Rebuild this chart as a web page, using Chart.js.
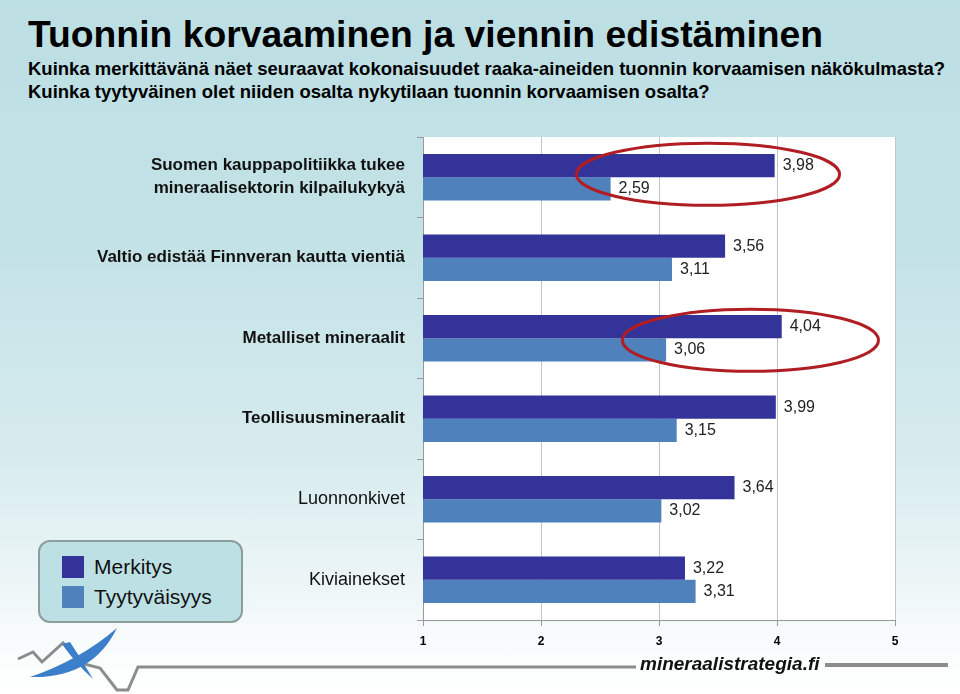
<!DOCTYPE html>
<html>
<head>
<meta charset="utf-8">
<script src="https://cdn.jsdelivr.net/npm/chart.js@4.4.1/dist/chart.umd.min.js"></script>
<style>
  body { margin: 0; }
  #wrap {
    position: relative; width: 960px; height: 694px; overflow: hidden;
    font-family: "Liberation Sans", Arial, sans-serif;
    background: linear-gradient(#bcdfe3 0%, #c3e2e6 35%, #d6ebee 65%, #eef6f7 85%, #fbfdfd 95%, #ffffff 100%);
  }
  #chart { position: absolute; left: 0; top: 0; }
  .title { position: absolute; left: 28px; top: 16px; margin: 0; font-size: 37.3px; line-height: 37px; font-weight: bold; color: #000; white-space: nowrap; }
  .sub { position: absolute; left: 28px; font-size: 18.5px; line-height: 18px; font-weight: bold; color: #000; white-space: nowrap; }
  #legend {
    position: absolute; left: 38px; top: 540px; width: 201px; height: 79px;
    background: #bde0e4; border: 2px solid #8d9c9d; border-radius: 12px;
  }
  .item { position: absolute; left: 22px; font-size: 21px; line-height: 22px; color: #111; }
  .item span { position: absolute; left: 0; top: 0; width: 22px; height: 22px; }
  .item b { position: absolute; left: 32px; top: 0; font-weight: normal; white-space: nowrap; }
  #site { position: absolute; left: 640px; top: 653px; font-size: 19px; font-weight: bold; font-style: italic; color: #111; }
  #logo { position: absolute; left: 0; top: 0; }
</style>
</head>
<body>
<div id="wrap">
  <div class="title">Tuonnin korvaaminen ja viennin edistäminen</div>
  <div class="sub" style="top:60px">Kuinka merkittävänä näet seuraavat kokonaisuudet raaka-aineiden tuonnin korvaamisen näkökulmasta?</div>
  <div class="sub" style="top:83px">Kuinka tyytyväinen olet niiden osalta nykytilaan tuonnin korvaamisen osalta?</div>
  <canvas id="chart" width="960" height="694"></canvas>
  <div id="legend">
    <div class="item" style="top:14px"><span style="background:#333399"></span><b>Merkitys</b></div>
    <div class="item" style="top:44px"><span style="background:#4f81bd"></span><b>Tyytyväisyys</b></div>
  </div>
  <svg id="logo" width="960" height="694">
    <polyline points="18,659 33,652 42,662 63,643 80,663 100,668 117,690 128,690 138,667 636,667" fill="none" stroke="#8c8c8c" stroke-width="3"/>
    <line x1="825" y1="665" x2="948" y2="665" stroke="#8c8c8c" stroke-width="4"/>
    <path d="M30,677 Q92,679 117,628 Q80,660 30,677 Z" fill="#3b7ec9"/>
    <path d="M62,644 L70,642 Q82,660 93,679 Q76,664 62,644 Z" fill="#3b7ec9"/>
  </svg>
  <div id="site">mineraalistrategia.fi</div>
</div>
<script>
// kategoriat ja arvot (asteikko 1-5)
var categories = [
  ["Suomen kauppapolitiikka tukee", "mineraalisektorin kilpailukykyä"],
  "Valtio edistää Finnveran kautta vientiä",
  "Metalliset mineraalit",
  "Teollisuusmineraalit",
  "Luonnonkivet",
  "Kiviainekset"
];
var merkitys = [3.98, 3.56, 4.04, 3.99, 3.64, 3.22];
var tyytyvaisyys = [2.59, 3.11, 3.06, 3.15, 3.02, 3.31];
var xTicks = [1, 2, 3, 4, 5];

// valkoinen kuva-ala
var plotBg = {
  id: 'plotBg',
  beforeDraw: function(chart) {
    var a = chart.chartArea, ctx = chart.ctx;
    ctx.save();
    ctx.fillStyle = '#ffffff';
    ctx.fillRect(a.left, a.top, a.right - a.left, a.bottom - a.top);
    ctx.restore();
  }
};

// arvot palkkien perään, pilkulla
var valueLabels = {
  id: 'valueLabels',
  afterDatasetsDraw: function(chart) {
    var ctx = chart.ctx;
    ctx.save();
    ctx.font = '16px "Liberation Sans", Arial, sans-serif';
    ctx.fillStyle = '#222';
    ctx.textBaseline = 'middle';
    chart.data.datasets.forEach(function(ds, i) {
      chart.getDatasetMeta(i).data.forEach(function(bar, j) {
        ctx.fillText(ds.data[j].toFixed(2).replace('.', ','), bar.x + 8, bar.y);
      });
    });
    ctx.restore();
  }
};

// punaiset ellipsit
var rings = [
  { cat: 0, from: 2.3, to: 4.53, dy: -3 },
  { cat: 2, from: 2.69, to: 4.86, dy: 2 }
];
var ringPlugin = {
  id: 'rings',
  afterDraw: function(chart) {
    var ctx = chart.ctx, x = chart.scales.x, y = chart.scales.y;
    ctx.save();
    ctx.strokeStyle = '#b01e23';
    ctx.lineWidth = 3;
    rings.forEach(function(r) {
      var x0 = x.getPixelForValue(r.from), x1 = x.getPixelForValue(r.to);
      var cy = y.getPixelForValue(r.cat) + r.dy;
      ctx.beginPath();
      ctx.ellipse((x0 + x1) / 2, cy, (x1 - x0) / 2, 31, 0, 0, Math.PI * 2);
      ctx.stroke();
    });
    ctx.restore();
  }
};

new Chart(document.getElementById('chart'), {
  type: 'bar',
  data: {
    labels: categories,
    datasets: [
      { label: 'Merkitys', data: merkitys, backgroundColor: '#333399', categoryPercentage: 0.575, barPercentage: 1.0 },
      { label: 'Tyytyväisyys', data: tyytyvaisyys, backgroundColor: '#4f81bd', categoryPercentage: 0.575, barPercentage: 1.0 }
    ]
  },
  options: {
    indexAxis: 'y',
    responsive: false,
    animation: false,
    layout: { padding: { top: 137, right: 65, left: 0, bottom: 0 } },
    plugins: { legend: { display: false }, tooltip: { enabled: false } },
    scales: {
      x: {
        type: 'linear', min: 1, max: 5,
        afterFit: function(s) { s.height = 74; },
        afterBuildTicks: function(s) { s.ticks = xTicks.map(function(v) { return { value: v }; }); },
        ticks: { color: '#000', font: { size: 12, weight: 'bold', family: '"Liberation Sans", Arial' }, padding: 8 },
        grid: { color: '#c4c4c4', tickLength: 6, tickColor: '#999' },
        border: { color: '#999' }
      },
      y: {
        afterFit: function(s) { s.width = 423; },
        ticks: {
          color: '#111',
          padding: 12,
          font: function(c) {
            var bold = c.index < 4;
            return { size: bold ? 17 : 18, lineHeight: bold ? 1.35 : 1.2, family: '"Liberation Sans", Arial', weight: bold ? 'bold' : 'normal' };
          }
        },
        grid: { offset: true, drawOnChartArea: false, tickLength: 6, color: '#999' },
        border: { color: '#999' }
      }
    }
  },
  plugins: [plotBg, valueLabels, ringPlugin]
});
</script>
</body>
</html>
